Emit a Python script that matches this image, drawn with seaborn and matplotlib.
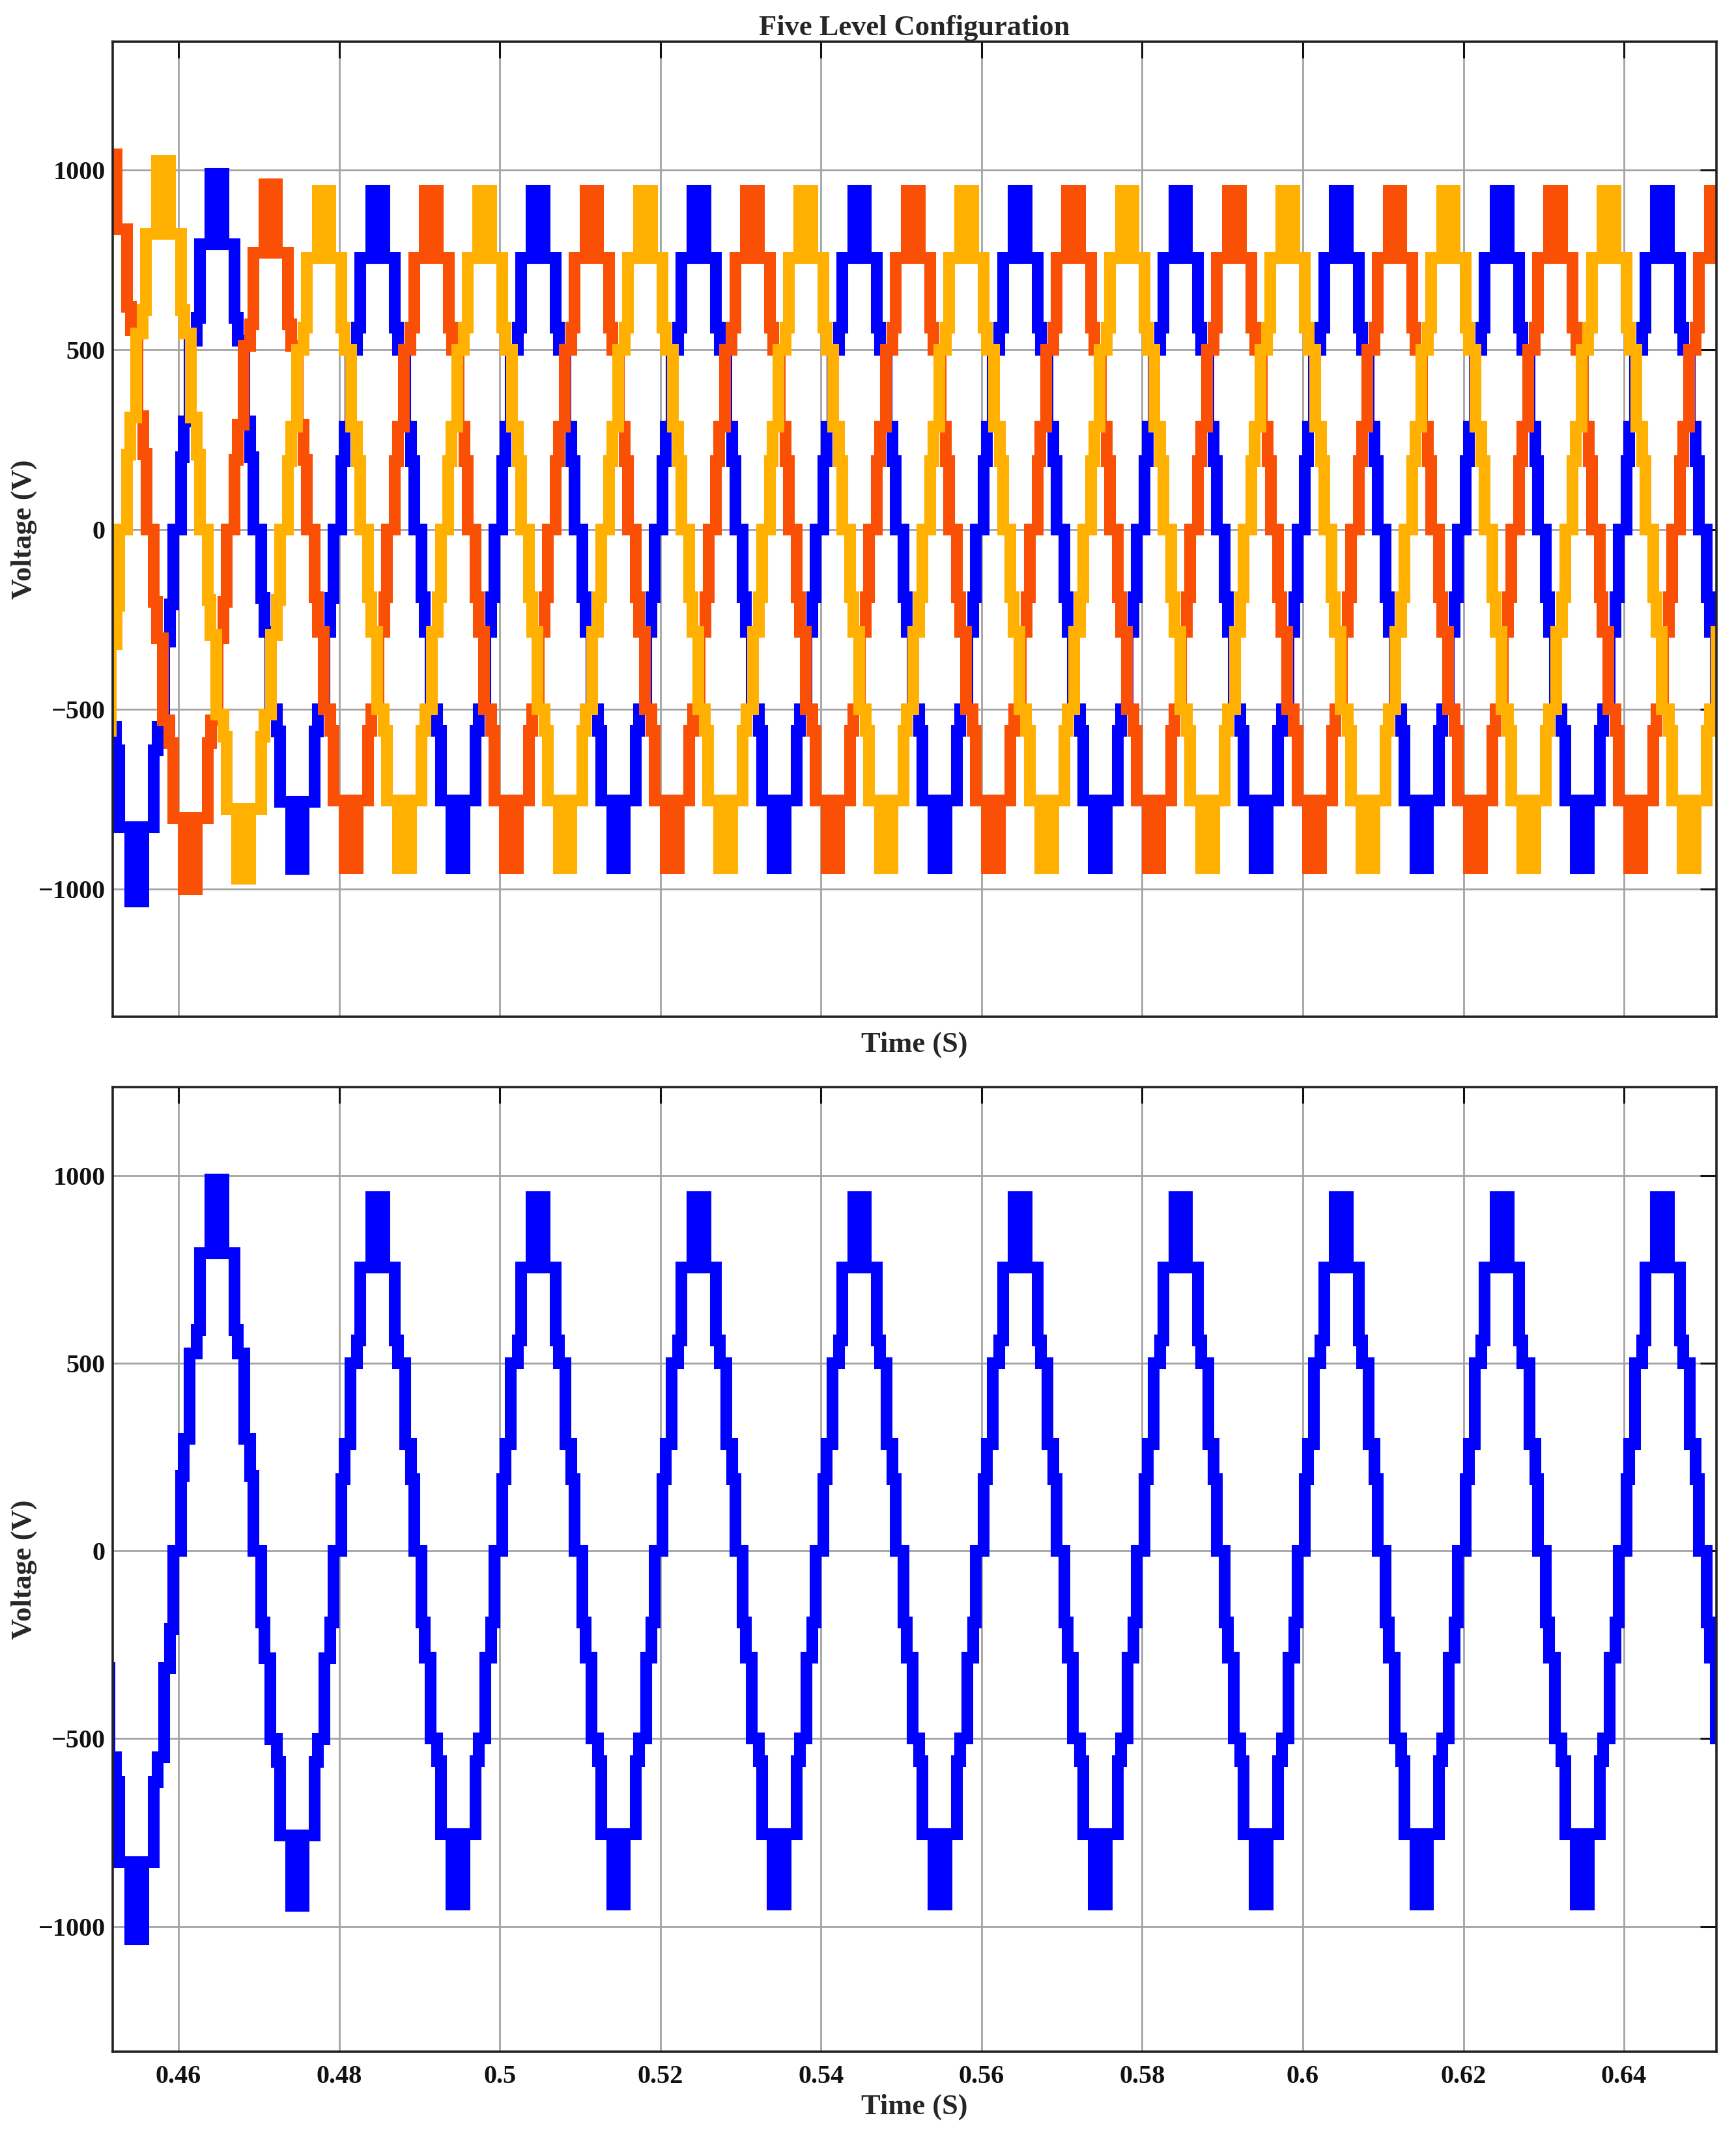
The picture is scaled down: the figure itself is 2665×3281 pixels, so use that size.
import matplotlib
matplotlib.use('Agg')
import matplotlib.pyplot as plt
import seaborn as sns
import pandas as pd

# half-cycle centres of phase A (blue) (trough first, then alternating)
centres_a = [0.4348, 0.4448, 0.4548, 0.4648, 0.4748, 0.4848, 0.4948, 0.5048,
             0.5148, 0.5248, 0.5348, 0.5448, 0.5548, 0.5648, 0.5748, 0.5848,
             0.5948, 0.6048, 0.6148, 0.6248, 0.6348, 0.6448, 0.6548, 0.6648]
first_sign = -1

phases = ['A', 'B', 'C']
phase_shift = {'A': 0.0, 'B': 0.00667, 'C': 0.01333}
colors = {'A': '#0000ff', 'B': '#fa5005', 'C': '#ffb000'}

# start-up transient: amplitude factor of the first half cycles of each phase
start_scale = {'A': [1.13, 1.12, 1.098, 1.05, 1.003],
               'B': [1.13, 1.106, 1.063, 1.019],
               'C': [1.12, 1.088, 1.031]}

# one positive half cycle, times in s from its centre, levels in V
step_offsets = [-0.00452, -0.00412, -0.00340, -0.00257, -0.00215]
step_levels = [190, 285, 500, 560, 755]
pwm_offsets = [-0.0008, -0.0003, 0.0003, 0.0008]
peak_level = 942

yticks = [-1000, -500, 0, 500, 1000]
xticks = [0.46, 0.48, 0.50, 0.52, 0.54, 0.56, 0.58, 0.60, 0.62, 0.64]


def half_cycle(c, sgn, k):
    pts = []
    prev = 0
    for o, lv in zip(step_offsets, step_levels):
        pts += [(c + o, prev), (c + o, lv)]
        prev = lv
    for i, o in enumerate(pwm_offsets):
        if i % 2 == 0:
            pts += [(c + o, step_levels[-1]), (c + o, peak_level)]
        else:
            pts += [(c + o, peak_level), (c + o, step_levels[-1])]
    lower = [0] + step_levels[:-1]
    for o, lv, lo in reversed(list(zip(step_offsets, step_levels, lower))):
        pts += [(c - o, lv), (c - o, lo)]
    return [(t, v * sgn * k) for t, v in pts]


rows = []
for ph in phases:
    sgn = first_sign
    for i, c in enumerate(centres_a):
        sc = start_scale[ph]
        k = sc[i] if i < len(sc) else 1.0
        for t, v in half_cycle(c + phase_shift[ph], sgn, k):
            rows.append((t, v, ph))
        sgn = -sgn
df = pd.DataFrame(rows, columns=['t', 'v', 'phase'])

sns.set_style('white')
plt.rcParams['font.family'] = ['Liberation Serif', 'DejaVu Serif']
plt.rcParams['font.weight'] = 'bold'

fig = plt.figure(figsize=(26.65, 32.81), dpi=100)
ax1 = fig.add_axes([0.0649, 0.5242, 0.9238, 0.4563])
ax2 = fig.add_axes([0.0649, 0.0399, 0.9238, 0.4514])

lw = 13
sns.lineplot(data=df, x='t', y='v', hue='phase', hue_order=phases, palette=colors,
             sort=False, estimator=None, linewidth=lw, legend=False, ax=ax1,
             solid_joinstyle='miter', solid_capstyle='butt')
sns.lineplot(data=df[df.phase == 'A'], x='t', y='v', color=colors['A'],
             sort=False, estimator=None, linewidth=lw, legend=False, ax=ax2,
             solid_joinstyle='miter', solid_capstyle='butt')

for ax, ylim in [(ax1, (-1356, 1356)), (ax2, (-1334, 1235))]:
    ax.set_xlim(0.4518, 0.6515)
    ax.set_ylim(*ylim)
    ax.set_xticks(xticks)
    ax.set_xticklabels(['%g' % x for x in xticks])
    ax.set_yticks(yticks)
    ax.set_axisbelow(True)
    ax.grid(True, color='#a3a3a3', linewidth=2)
    ax.tick_params(direction='in', length=18, width=2.2, top=True, right=True,
                   labelsize=29, pad=8, colors='#111111')
    ax.tick_params(axis='x', pad=14)
    for s in ax.spines.values():
        s.set_linewidth(2.6)
        s.set_color('#222222')
    ax.set_ylabel('Voltage (V)', fontsize=32, fontweight='bold')
    ax.yaxis.set_label_coords(-0.047, 0.5)
    ax.set_xlabel('Time (S)', fontsize=32, fontweight='bold')

ax1.tick_params(axis='x', labelbottom=False)
ax1.xaxis.set_label_coords(0.5, -0.015)
ax2.xaxis.set_label_coords(0.5, -0.0435)
ax1.set_title('Five Level Configuration', fontsize=32, fontweight='bold', pad=7)

fig.savefig('out.png', dpi=100)
